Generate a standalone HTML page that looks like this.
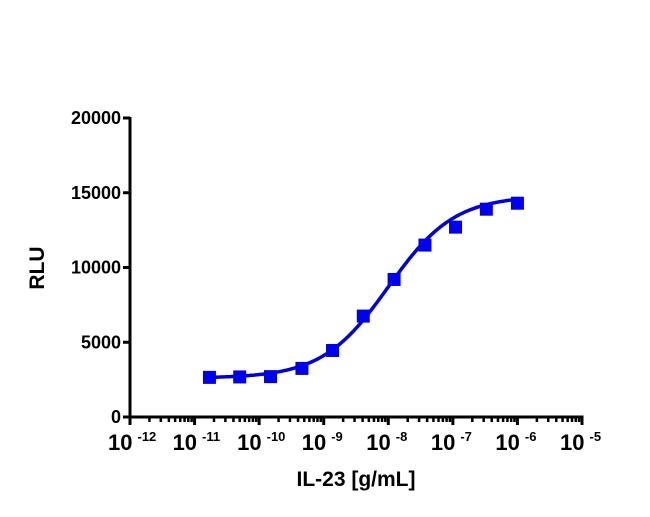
<!DOCTYPE html>
<html><head><meta charset="utf-8"><style>
body{margin:0;background:#fff;width:650px;height:512px;overflow:hidden}
text{font-family:"Liberation Sans",Arial,sans-serif;font-weight:bold;fill:#000}
</style></head><body>
<svg id="chart" width="650" height="512" viewBox="0 0 650 512"></svg>
<script>
const xExponents=[-12,-11,-10,-9,-8,-7,-6,-5];
const yTicks=[0,5000,10000,15000,20000];
const concentrations=[1.7e-11,5e-11,1.5e-10,4.6e-10,1.37e-9,4.1e-9,1.23e-8,3.7e-8,1.1e-7,3.3e-7,1e-6];
const rluValues=[2650,2680,2700,3250,4450,6750,9200,11500,12700,13900,14300];
const fitParams=[2600,14800,1e-8,0.85]; // bottom, top, EC50, hill
const NS='http://www.w3.org/2000/svg';
const svg=document.getElementById('chart');
const X0=130,X1=582,Y0=417,Y1=118;
const xs=v=>X0+(Math.log10(v)+12)/7*(X1-X0);
const ys=v=>Y0-v/20000*(Y0-Y1);
function el(t,a,p){const e=document.createElementNS(NS,t);for(const k in a)e.setAttribute(k,a[k]);(p||svg).appendChild(e);return e;}
const yAxis=el('line',{x1:X0,y1:Y1-1,x2:X0,y2:Y0+1.5,stroke:'#000','stroke-width':3});


const xAxis=el('line',{x1:X0-1.5,y1:Y0,x2:X1+1.5,y2:Y0,stroke:'#000','stroke-width':3});


yTicks.forEach(v=>{
  const y=ys(v);
  const t=el('line',{x1:X0-7,y1:y,x2:X0,y2:y,stroke:'#000','stroke-width':3});
  
  
  const l=el('text',{x:X0-9,y:y+6,'text-anchor':'end','font-size':18});
  l.textContent=v;
  
  
});
xExponents.forEach((e,i)=>{
  const x=xs(Math.pow(10,e));
  const t=el('line',{x1:x,y1:Y0,x2:x,y2:Y0+8,stroke:'#000','stroke-width':3});
  
  
  if(i<xExponents.length-1){for(let m=2;m<10;m++){const xm=xs(m*Math.pow(10,e));
    const mt=el('line',{x1:xm,y1:Y0,x2:xm,y2:Y0+5,stroke:'#000','stroke-width':2.5});
    
    }}
  const l=el('text',{x:x-22,y:Y0+33,'font-size':22});
  
  
  l.textContent='10';
  const s=el('tspan',{dx:5,dy:-9,'font-size':13},l);s.textContent=e;
});
const yt=el('text',{x:0,y:0,'font-size':21,'text-anchor':'middle',transform:'translate(44,268) rotate(-90)'});
yt.textContent='RLU';


const xt=el('text',{x:356,y:486,'font-size':21,'text-anchor':'middle'});
xt.textContent='IL-23 [g/mL]';


const [b,tp,ec,h]=fitParams;let d='';
const lo=Math.log10(concentrations[0]),hi=Math.log10(concentrations[concentrations.length-1]);
for(let i=0;i<=200;i++){const lx=lo+(hi-lo)*i/200;const c=Math.pow(10,lx);
  const v=b+(tp-b)/(1+Math.pow(ec/c,h));d+=(i?'L':'M')+xs(c).toFixed(1)+','+ys(v).toFixed(1);}
const curve=el('path',{d:d,fill:'none',stroke:'#0000dd','stroke-width':3.5});


concentrations.forEach((c,i)=>{
  const p=el('rect',{x:xs(c)-6.5,y:ys(rluValues[i])-6.5,width:13,height:13,fill:'#0000ee'});
  
  
});
</script>
</body></html>
